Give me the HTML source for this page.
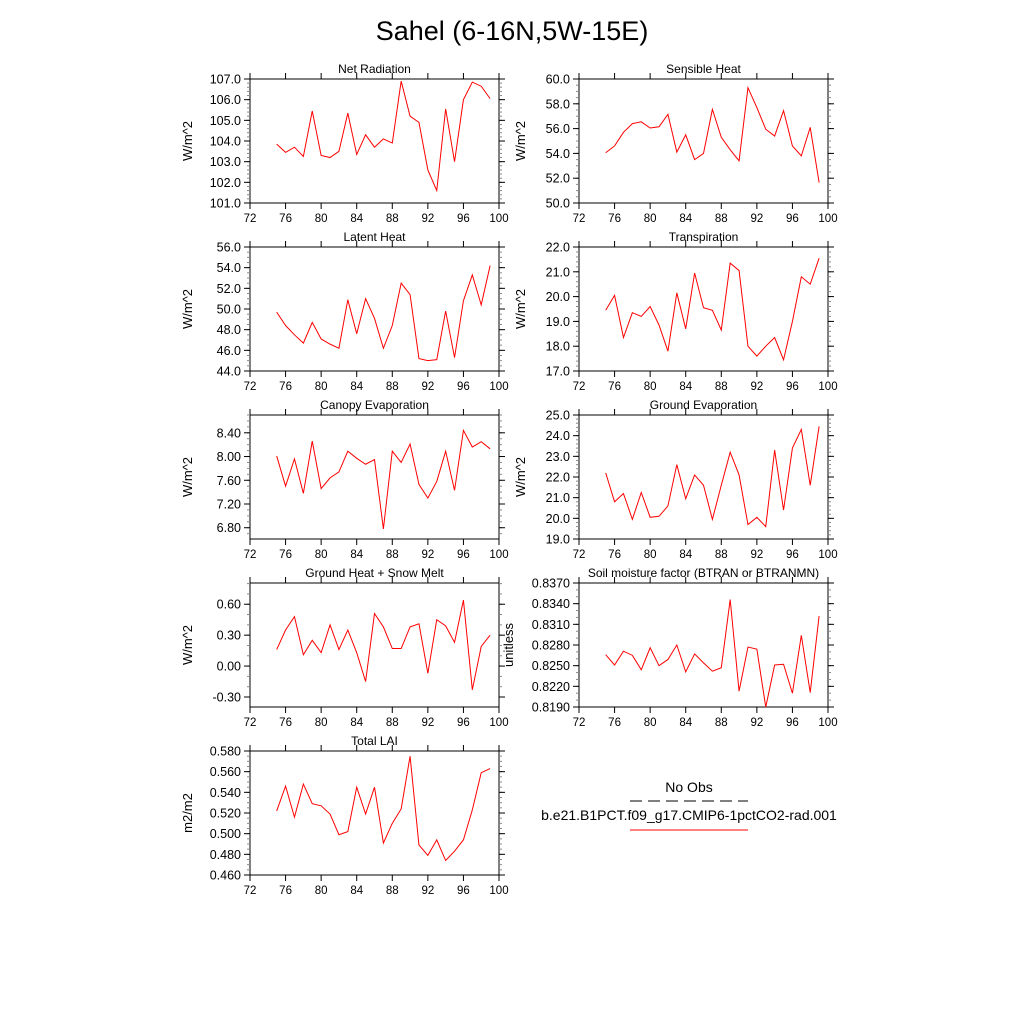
<!DOCTYPE html>
<html><head><meta charset="utf-8"><style>
body{margin:0;background:#fff}
svg{display:block;font-family:"Liberation Sans",sans-serif}
</style></head><body>
<svg id="fig" width="1024" height="1024" viewBox="0 0 1024 1024">
<rect width="1024" height="1024" fill="#fff"/>
<text x="512" y="40" font-size="27" text-anchor="middle">Sahel (6-16N,5W-15E)</text>
<g>
<text x="689" y="792" font-size="14" text-anchor="middle">No Obs</text>
<line x1="630" y1="801" x2="748" y2="801" stroke="#000" stroke-width="1" stroke-dasharray="12,6"/>
<text x="689" y="820" font-size="14" text-anchor="middle">b.e21.B1PCT.f09_g17.CMIP6-1pctCO2-rad.001</text>
<line x1="630" y1="830" x2="748" y2="830" stroke="#f00" stroke-width="1"/>
</g>
</svg>
<script>
const years = [75,76,77,78,79,80,81,82,83,84,85,86,87,88,89,90,91,92,93,94,95,96,97,98,99];
const xTicks = [72,76,80,84,88,92,96,100];
const netRad = [103.85,103.45,103.7,103.25,105.45,103.3,103.2,103.5,105.35,103.35,104.3,103.7,104.1,103.9,106.9,105.2,104.9,102.6,101.6,105.55,103.0,106.0,106.85,106.65,106.05];
const sensible = [54.05,54.6,55.7,56.4,56.55,56.05,56.15,57.15,54.1,55.5,53.5,54.0,57.55,55.3,54.3,53.4,59.3,57.7,55.95,55.4,57.45,54.6,53.8,56.1,51.65];
const latent = [49.7,48.4,47.5,46.7,48.7,47.1,46.6,46.2,50.9,47.6,51.0,49.1,46.2,48.4,52.5,51.4,45.2,45.0,45.1,49.8,45.3,50.8,53.3,50.4,54.2];
const transp = [19.45,20.05,18.35,19.35,19.2,19.6,18.85,17.8,20.15,18.7,20.95,19.55,19.45,18.65,21.35,21.05,18.0,17.6,18.0,18.35,17.45,19.0,20.8,20.5,21.55];
const canopy = [8.01,7.50,7.96,7.38,8.26,7.46,7.64,7.74,8.09,7.97,7.87,7.95,6.78,8.09,7.90,8.21,7.53,7.30,7.58,8.09,7.43,8.44,8.16,8.25,8.13];
const groundEvap = [22.2,20.8,21.2,19.95,21.25,20.05,20.1,20.6,22.6,20.95,22.1,21.6,19.95,21.6,23.2,22.1,19.7,20.05,19.6,23.3,20.4,23.4,24.3,21.6,24.45];
const groundHeat = [0.16,0.35,0.48,0.11,0.25,0.13,0.40,0.16,0.35,0.13,-0.15,0.51,0.38,0.17,0.17,0.38,0.41,-0.07,0.45,0.39,0.23,0.64,-0.23,0.19,0.30];
const soil = [0.8266,0.8251,0.8271,0.8265,0.8244,0.8276,0.8250,0.8259,0.8280,0.8241,0.8267,0.8254,0.8242,0.8247,0.8346,0.8213,0.8277,0.8274,0.8190,0.8251,0.8252,0.8210,0.8294,0.8211,0.8322];
const lai = [0.522,0.546,0.516,0.548,0.529,0.527,0.519,0.499,0.502,0.545,0.519,0.545,0.491,0.510,0.524,0.575,0.489,0.479,0.494,0.474,0.483,0.494,0.523,0.559,0.563];
const netTicks = [101,102,103,104,105,106,107];
const senTicks = [50,52,54,56,58,60];
const latTicks = [44,46,48,50,52,54,56];
const traTicks = [17,18,19,20,21,22];
const canTicks = [6.8,7.2,7.6,8.0,8.4];
const gevTicks = [19,20,21,22,23,24,25];
const ghTicks = [-0.3,0,0.3,0.6];
const soilTicks = [0.819,0.822,0.825,0.828,0.831,0.834,0.837];
const laiTicks = [0.46,0.48,0.50,0.52,0.54,0.56,0.58];

const NS='http://www.w3.org/2000/svg';
const svg=document.getElementById('fig');
function mk(tag,attrs,parent){const e=document.createElementNS(NS,tag);for(const k in attrs)e.setAttribute(k,attrs[k]);(parent||svg).appendChild(e);return e;}

const panels=[
 {name:'net-radiation',title:'Net Radiation',unit:'W/m^2',data:netRad,ticks:netTicks,dec:1,min:101,max:107,minor:0.2,x0:250,y0:79,lx:192},
 {name:'sensible-heat',title:'Sensible Heat',unit:'W/m^2',data:sensible,ticks:senTicks,dec:1,min:50,max:60,minor:0.5,x0:579,y0:79,lx:525},
 {name:'latent-heat',title:'Latent Heat',unit:'W/m^2',data:latent,ticks:latTicks,dec:1,min:44,max:56,minor:0.5,x0:250,y0:247,lx:192},
 {name:'transpiration',title:'Transpiration',unit:'W/m^2',data:transp,ticks:traTicks,dec:1,min:17,max:22,minor:0.2,x0:579,y0:247,lx:525},
 {name:'canopy-evaporation',title:'Canopy Evaporation',unit:'W/m^2',data:canopy,ticks:canTicks,dec:2,min:6.61,max:8.70,minor:0.1,x0:250,y0:415,lx:192},
 {name:'ground-evaporation',title:'Ground Evaporation',unit:'W/m^2',data:groundEvap,ticks:gevTicks,dec:1,min:19,max:25,minor:0.2,x0:579,y0:415,lx:525},
 {name:'ground-heat-snow-melt',title:'Ground Heat + Snow Melt',unit:'W/m^2',data:groundHeat,ticks:ghTicks,dec:2,min:-0.397,max:0.806,minor:0.1,x0:250,y0:583,lx:192},
 {name:'soil-moisture-factor',title:'Soil moisture factor (BTRAN or BTRANMN)',unit:'unitless',data:soil,ticks:soilTicks,dec:4,min:0.819,max:0.837,minor:0.001,x0:579,y0:583,lx:513},
 {name:'total-lai',title:'Total LAI',unit:'m2/m2',data:lai,ticks:laiTicks,dec:3,min:0.46,max:0.58,minor:0.005,x0:250,y0:751,lx:192}
];
const W=249,H=124;
panels.forEach(p=>{
 const g=mk('g',{});
 
 
 const xs=v=>p.x0+(v-72)/28*W;
 const ys=v=>p.y0+H-(v-p.min)/(p.max-p.min)*H;
 const t=mk('text',{x:p.x0+W/2,y:p.y0-6,'font-size':12,'text-anchor':'middle'},g);
 t.textContent=p.title;
 
 
 const yl=mk('text',{x:0,y:0,'font-size':13,'text-anchor':'middle',transform:`translate(${p.lx},${p.y0+H/2}) rotate(-90)`},g);
 yl.textContent=p.unit;
 
 
 const box=mk('rect',{x:p.x0,y:p.y0,width:W,height:H,fill:'none',stroke:'#000','stroke-width':1},g);
 
 
 xTicks.forEach(v=>{
  const x=xs(v);
  mk('line',{x1:x,y1:p.y0+H,x2:x,y2:p.y0+H+6,stroke:'#000'},g);
  mk('line',{x1:x,y1:p.y0,x2:x,y2:p.y0-6,stroke:'#000'},g);
  const tl=mk('text',{x:x,y:p.y0+H+19,'font-size':11.5,'text-anchor':'middle'},g);
  tl.textContent=v;
  
  
 });
 const nMin=Math.ceil(p.min/p.minor-1e-6), nMax=Math.floor(p.max/p.minor+1e-6);
 for(let i=nMin;i<=nMax;i++){
  const y=ys(i*p.minor);
  mk('line',{x1:p.x0,y1:y,x2:p.x0-3,y2:y,stroke:'#888'},g);
  mk('line',{x1:p.x0+W,y1:y,x2:p.x0+W+3,y2:y,stroke:'#888'},g);
 }
 p.ticks.forEach(v=>{
  const y=ys(v);
  mk('line',{x1:p.x0,y1:y,x2:p.x0-6,y2:y,stroke:'#000'},g);
  mk('line',{x1:p.x0+W,y1:y,x2:p.x0+W+6,y2:y,stroke:'#000'},g);
  const tl=mk('text',{x:p.x0-9,y:y+4.5,'font-size':12.5,'text-anchor':'end'},g);
  tl.textContent=v.toFixed(p.dec);
  
  
 });
 const pts=p.data.map((v,i)=>xs(years[i]).toFixed(2)+','+ys(v).toFixed(2)).join(' ');
 const line=mk('polyline',{points:pts,fill:'none',stroke:'#f00','stroke-width':1},g);
 
 
});
</script>
</body></html>
